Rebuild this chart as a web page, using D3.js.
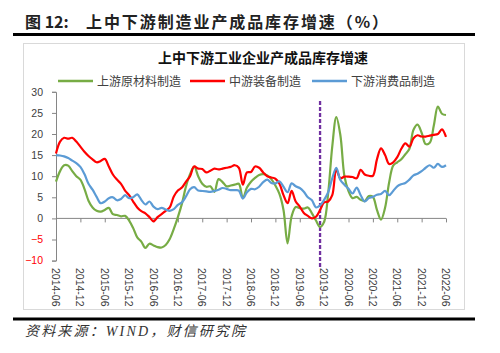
<!DOCTYPE html>
<html>
<head>
<meta charset="utf-8">
<script src="https://cdn.jsdelivr.net/npm/d3@7"></script>
<style>
  body { margin: 0; background: #fff; }
  svg { display: block; }
</style>
</head>
<body>
<svg id="chart"></svg>
<script>
// monthly categories 2014-06 .. 2022-06
const months = d3.timeMonth.range(new Date(2014, 5, 1), new Date(2022, 6, 1)).map(d3.timeFormat("%Y-%m"));

const tickLabels = ["2014-06","2014-12","2015-06","2015-12","2016-06","2016-12","2017-06","2017-12",
  "2018-06","2018-12","2019-06","2019-12","2020-06","2020-12","2021-06","2021-12","2022-06"];

const yTicks = [-10, -5, 0, 5, 10, 15, 20, 25, 30];

const seriesNames = ["上游原材料制造", "中游装备制造", "下游消费品制造"];
const seriesColors = ["#77ac45", "#ff0000", "#5b9bd5"];

// 上游原材料制造
const upstream = [8.7,11.2,12.6,12.5,11.2,10.0,9.2,7.0,4.2,2.6,
  1.8,1.6,2.0,2.5,1.0,0.8,0.5,0.6,-0.5,-2.3,
  -4.5,-5.5,-7.0,-6.0,-6.4,-6.8,-6.9,-6.3,-4.9,-2.5,
  0.3,3.5,7.6,10.5,12.3,10.0,8.2,7.5,7.6,6.3,
  9.3,8.6,7.6,7.8,8.0,8.2,4.8,7.3,8.7,9.6,
  10.3,10.5,10.2,9.3,7.8,5.8,2.0,-5.9,0.5,2.7,
  2.4,2.3,2.6,1.2,-0.5,-2.0,-0.8,6.0,17.0,24.0,
  19.7,10.0,6.5,4.8,5.1,4.4,4.1,5.3,5.1,2.0,
  -0.3,2.5,8.5,12.5,13.3,14.0,15.2,16.5,21.0,22.2,
  20.3,17.6,17.9,22.0,26.5,24.8,24.5];

// 中游装备制造
const midstream = [15.4,18.2,19.1,18.9,19.1,18.2,17.0,15.8,14.8,14.0,
  13.3,13.6,14.1,12.3,10.4,9.2,8.2,6.6,5.5,4.0,
  2.6,1.7,1.2,0.3,-0.7,0.3,1.0,1.8,2.6,5.2,
  6.6,7.3,8.7,10.0,12.3,11.8,11.7,10.9,11.3,11.8,
  11.6,11.8,12.0,12.2,12.6,12.0,8.0,10.9,11.0,12.3,
  12.0,10.9,10.0,9.7,9.4,8.2,5.5,3.6,6.5,4.0,
  2.8,1.3,0.6,0.0,0.4,2.0,3.8,4.0,5.5,11.5,
  9.5,9.9,9.9,9.8,9.5,11.5,10.4,10.1,10.1,14.0,
  16.6,15.0,12.9,13.3,14.5,16.5,17.8,17.0,19.0,19.7,
  19.4,19.4,19.6,19.8,20.0,21.1,19.3];

// 下游消费品制造
const downstream = [15.0,14.9,14.7,14.3,13.7,13.1,12.2,10.5,8.2,6.8,
  5.1,3.6,4.0,4.8,5.0,4.3,4.6,5.5,4.8,5.0,
  5.7,4.4,3.3,4.0,2.8,2.2,2.5,2.1,1.8,2.2,
  3.2,3.8,5.2,6.9,7.4,6.6,6.5,6.4,6.3,6.5,
  6.8,7.2,7.0,6.7,6.7,6.6,4.7,6.2,7.0,6.9,
  7.5,8.6,9.2,8.4,8.3,8.8,7.5,6.2,8.3,7.6,
  7.2,6.3,5.0,4.3,2.6,3.1,4.4,6.2,9.5,12.0,
  9.1,8.0,7.0,5.9,7.3,5.5,4.0,4.8,5.1,5.6,
  5.8,6.5,5.5,6.5,7.6,8.1,8.4,9.2,10.2,10.6,
  11.2,12.0,12.6,12.0,12.9,12.2,12.6];

const markMonth = "2019-11";

const width = 500, height = 353;
const svg = d3.select("#chart").attr("width", width).attr("height", height);

const cjk = "'Noto Sans CJK SC', sans-serif";
const num = "'Liberation Sans', Arial, sans-serif";

// header
svg.append("text")
  .attr("x", 25).attr("y", 28)
  .attr("font-family", cjk).attr("font-weight", "bold")
  .style("font-size", "16px").attr("fill", "#222")
  .text("图 12:");
svg.append("text")
  .attr("x", 86).attr("y", 28)
  .attr("font-family", cjk).attr("font-weight", "bold")
  .style("font-size", "16px").attr("fill", "#222")
  .attr("textLength", 302).attr("lengthAdjust", "spacing")
  .text("上中下游制造业产成品库存增速（%）");

svg.append("line")
  .attr("x1", 13).attr("x2", 475).attr("y1", 34.5).attr("y2", 34.5)
  .attr("stroke", "#000").attr("stroke-width", 3);
svg.append("line")
  .attr("x1", 13).attr("x2", 475).attr("y1", 319).attr("y2", 319)
  .attr("stroke", "#000").attr("stroke-width", 3);

svg.append("text")
  .attr("x", 25).attr("y", 336)
  .attr("font-family", "'Liberation Serif', 'Noto Sans CJK SC', serif")
  .attr("font-style", "italic")
  .style("font-size", "14px").attr("fill", "#333")
  .attr("textLength", 220).attr("lengthAdjust", "spacing")
  .text("资料来源：WIND，财信研究院");

// chart frame
svg.append("rect")
  .attr("x", 23.5).attr("y", 43.5).attr("width", 441).attr("height", 266)
  .attr("fill", "#fff").attr("stroke", "#d9d9d9");

svg.append("text")
  .attr("x", 263).attr("y", 63)
  .attr("text-anchor", "middle")
  .attr("font-family", cjk).attr("font-weight", "bold")
  .style("font-size", "14px").attr("fill", "#111")
  .text("上中下游工业企业产成品库存增速");

// scales
const xScale = d3.scalePoint().domain(months).range([56, 446]);
const yScale = d3.scaleLinear().domain([-10, 30]).range([260.6, 91.8]);

// y axis
const yAxisG = svg.append("g")
  .attr("transform", "translate(56,0)")
  .call(d3.axisLeft(yScale).tickValues(yTicks).tickSize(4).tickPadding(9));
yAxisG.selectAll("path, line").attr("stroke", "#868686");
yAxisG.selectAll("text")
  .attr("font-family", num).style("font-size", "10.5px")
  .attr("fill", d => d < 0 ? "#ff0000" : "#404040");

// x axis at zero line (ticks only)
const xAxisG = svg.append("g")
  .attr("transform", `translate(0,${yScale(0)})`)
  .call(d3.axisBottom(xScale).tickValues(tickLabels).tickSize(4).tickFormat(""));
xAxisG.selectAll("path, line").attr("stroke", "#868686");
xAxisG.select(".domain").attr("d", `M56,0H446`);

// x labels at bottom, rotated
svg.append("g").selectAll("text")
  .data(tickLabels)
  .join("text")
  .attr("transform", d => `translate(${xScale(d) - 4},268) rotate(90)`)
  .attr("font-family", num).style("font-size", "10.5px")
  .attr("fill", "#404040")
  .text(d => d);

// vertical marker
svg.append("line")
  .attr("x1", xScale(markMonth)).attr("x2", xScale(markMonth))
  .attr("y1", 101).attr("y2", 267)
  .attr("stroke", "#7030a0").attr("stroke-width", 2.3)
  .attr("stroke-dasharray", "4,2");

// lines
const line = d3.line()
  .x((d, i) => xScale(months[i]))
  .y(d => yScale(d))
  .curve(d3.curveCatmullRom.alpha(0.5));

[upstream, midstream, downstream].forEach((s, k) => {
  svg.append("path")
    .datum(s)
    .attr("fill", "none")
    .attr("stroke", seriesColors[k])
    .attr("stroke-width", 2.2)
    .attr("stroke-linejoin", "round")
    .attr("d", line);
});

// legend
const legendX = [58, 190, 312];
const legend = svg.append("g").selectAll("g")
  .data(seriesNames)
  .join("g")
  .attr("transform", (d, i) => `translate(${legendX[i]},81)`);
legend.append("line")
  .attr("x1", 0).attr("x2", 35)
  .attr("stroke", (d, i) => seriesColors[i]).attr("stroke-width", 2.5);
legend.append("text")
  .attr("x", 39).attr("y", 4.5)
  .attr("font-family", cjk).style("font-size", "12px")
  .attr("fill", "#404040")
  .text(d => d);
</script>
</body>
</html>
